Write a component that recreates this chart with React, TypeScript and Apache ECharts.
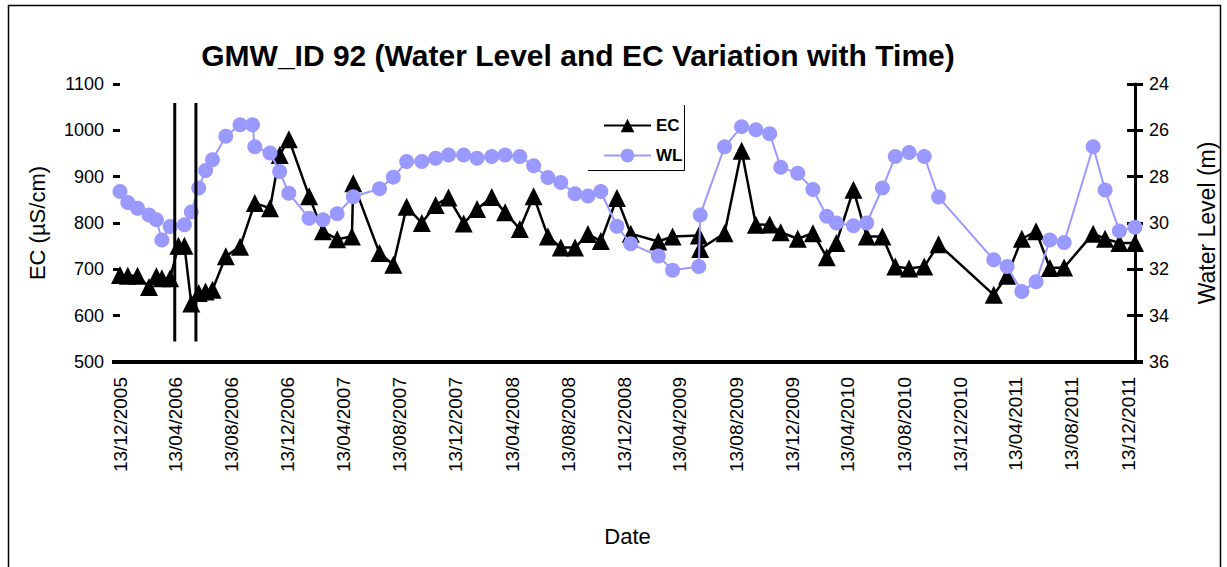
import React, { useEffect, useRef } from "react";
import * as echarts from "echarts";

const dates = [
  "2005-12-13", "2005-12-30", "2006-01-20", "2006-02-14", "2006-03-02", "2006-03-14", "2006-04-01", "2006-04-19", "2006-05-02", "2006-05-17",
  "2006-06-02", "2006-06-17", "2006-07-02", "2006-07-31", "2006-08-31", "2006-09-27", "2006-10-02", "2006-11-04", "2006-11-25", "2006-12-15",
  "2007-01-28", "2007-02-27", "2007-03-30", "2007-05-01", "2007-05-04", "2007-06-30", "2007-07-30", "2007-08-28", "2007-09-30", "2007-10-30",
  "2007-11-27", "2007-12-30", "2008-01-28", "2008-02-29", "2008-03-29", "2008-04-30", "2008-05-30", "2008-06-30", "2008-07-28", "2008-08-28",
  "2008-09-25", "2008-10-23", "2008-11-27", "2008-12-27", "2009-02-25", "2009-03-28", "2009-05-24", "2009-05-27", "2009-07-19", "2009-08-25",
  "2009-09-25", "2009-10-25", "2009-11-18", "2009-12-25", "2010-01-27", "2010-02-26", "2010-03-19", "2010-04-25", "2010-05-24", "2010-06-27",
  "2010-07-25", "2010-08-24", "2010-09-26", "2010-10-27", "2011-02-24", "2011-03-25", "2011-04-26", "2011-05-27", "2011-06-26", "2011-07-27",
  "2011-09-28", "2011-10-24", "2011-11-24", "2011-12-28",
];

const ecValues: (number | null)[] = [
  688, 686, 686, 662, 685, 681, 681, 751, 751, 626,
  649, 652, 656, 728, 749, null, 843, 832, 947, 981,
  858, 782, 765, 771, 886, 735, 710, 835, 800, 839,
  855, 799, 830, 856, 823, 787, 858, 771, 747, 747,
  776, 761, 854, 777, 760, 771, 773, 744, 778, 956,
  796, 797, 780, 766, 778, 726, 757, 872, 771, 771,
  706, 702, 706, 754, 645, 686, 766, 782, 703, 704,
  777, 766, 757, 757,
];

const wlValues: (number | null)[] = [
  28.64, 29.11, 29.36, 29.65, 29.86, 30.73, 30.15, null, 30.08, 29.52,
  28.49, 27.73, 27.27, 26.26, 25.76, 25.76, 26.71, 26.98, 27.78, 28.72,
  29.79, 29.86, 29.6, null, 28.87, 28.52, 28.02, 27.35, 27.35, 27.2,
  27.06, 27.06, 27.2, 27.13, 27.06, 27.13, 27.53, 28.04, 28.25, 28.74,
  28.83, 28.64, 30.14, 30.9, 31.42, 32.04, 31.88, 29.65, 26.71, 25.84,
  25.98, 26.15, 27.59, 27.85, 28.55, 29.71, 30.0, 30.12, 30.0, 28.49,
  27.13, 26.96, 27.13, 28.88, 31.59, 31.88, 32.96, 32.54, 30.73, 30.84,
  26.71, 28.58, 30.34, 30.18,
];

const xTickLabels = [
  "13/12/2005", "13/04/2006", "13/08/2006", "13/12/2006", "13/04/2007", "13/08/2007", "13/12/2007",
  "13/04/2008", "13/08/2008", "13/12/2008", "13/04/2009", "13/08/2009", "13/12/2009", "13/04/2010",
  "13/08/2010", "13/12/2010", "13/04/2011", "13/08/2011", "13/12/2011",
];

const xRange = ["2005-12-13", "2011-12-28"];
const markerDates = ["2006-04-11", "2006-05-27"];
const markerRange = [544, 1059];

const FONT = "'Liberation Sans', Arial, sans-serif";

const ts = (s: string) => {
  const [y, m, d] = s.split("-").map(Number);
  return Date.UTC(y, m - 1, d);
};
const tsFromLabel = (s: string) => {
  const [d, m, y] = s.split("/").map(Number);
  return Date.UTC(y, m - 1, d);
};
const pad = (n: number) => String(n).padStart(2, "0");
const fmt = (v: number) => {
  const dt = new Date(v);
  return `${pad(dt.getUTCDate())}/${pad(dt.getUTCMonth() + 1)}/${dt.getUTCFullYear()}`;
};

export default function App() {
  const ref = useRef<HTMLDivElement>(null);

  useEffect(() => {
    if (!ref.current) return;
    const chart = echarts.init(ref.current, undefined, { renderer: "svg" });

    const ecData = dates
      .map((d, i) => [ts(d), ecValues[i]])
      .filter((p) => p[1] !== null);
    const wlData = dates
      .map((d, i) => [ts(d), wlValues[i]])
      .filter((p) => p[1] !== null);
    const tickValues = xTickLabels.map(tsFromLabel);

    const markerSeries = markerDates.map((d) => ({
      name: "marker-" + d,
      type: "line",
      yAxisIndex: 0,
      data: [
        [ts(d), markerRange[0]],
        [ts(d), markerRange[1]],
      ],
      symbol: "none",
      silent: true,
      lineStyle: { color: "#000", width: 3 },
      z: 5,
    }));

    chart.setOption({
      animation: false,
      backgroundColor: "#fff",
      textStyle: { fontFamily: FONT },
      title: {
        text: "GMW_ID 92 (Water Level and EC Variation with Time)",
        left: 578,
        textAlign: "center",
        top: 40,
        padding: 0,
        textStyle: { fontSize: 30, fontWeight: "bold", color: "#000", fontFamily: FONT },
      },
      legend: {
        data: ["EC", "WL"],
        orient: "vertical",
        left: 598,
        top: 112,
        itemWidth: 47,
        itemHeight: 17,
        itemGap: 13,
        textStyle: { fontSize: 17, fontWeight: "bold", color: "#000", fontFamily: FONT },
      },
      grid: { left: 120, right: 92, top: 84, height: 278, containLabel: false },
      xAxis: {
        type: "value",
        min: ts(xRange[0]),
        max: ts(xRange[1]),
        name: "Date",
        nameLocation: "middle",
        nameGap: 163,
        nameTextStyle: { fontSize: 22, color: "#000", fontFamily: FONT },
        axisLine: { show: true, lineStyle: { color: "#000", width: 4 } },
        axisTick: { show: false },
        splitLine: { show: false },
        axisLabel: {
          customValues: tickValues,
          rotate: 90,
          margin: 15,
          fontSize: 19,
          color: "#000",
          fontFamily: FONT,
          formatter: (v: number) => fmt(v),
        },
      },
      yAxis: [
        {
          type: "value",
          position: "left",
          min: 500,
          max: 1100,
          interval: 100,
          name: "EC (µS/cm)",
          nameLocation: "middle",
          nameGap: 72,
          nameRotate: 90,
          nameTextStyle: { fontSize: 22, color: "#000", fontFamily: FONT },
          axisLine: { show: false },
          axisTick: { show: true, inside: false, length: 7, lineStyle: { color: "#000", width: 3 } },
          splitLine: { show: false },
          axisLabel: { margin: 16, fontSize: 18, color: "#000", fontFamily: FONT, formatter: (v: number) => String(v) },
        },
        {
          type: "value",
          position: "right",
          min: 24,
          max: 36,
          interval: 2,
          inverse: true,
          name: "Water Level (m)",
          nameLocation: "middle",
          nameGap: 60,
          nameRotate: 90,
          nameTextStyle: { fontSize: 23, color: "#000", fontFamily: FONT },
          axisLine: { show: true, lineStyle: { color: "#000", width: 3 } },
          axisTick: { show: true, inside: false, length: 8, lineStyle: { color: "#000", width: 3 } },
          splitLine: { show: false },
          axisLabel: { margin: 14, fontSize: 18, color: "#000", fontFamily: FONT, formatter: (v: number) => String(v) },
        },
        {
          type: "value",
          position: "right",
          min: 24,
          max: 36,
          interval: 2,
          inverse: true,
          axisLine: { show: false },
          axisTick: { show: true, inside: true, length: 8, lineStyle: { color: "#000", width: 3 } },
          splitLine: { show: false },
          axisLabel: { show: false },
        },
      ],
      series: [
        {
          name: "EC",
          type: "line",
          yAxisIndex: 0,
          data: ecData,
          symbol: "triangle",
          symbolSize: 18,
          itemStyle: { color: "#000" },
          lineStyle: { color: "#000", width: 2.5 },
          z: 2,
        },
        {
          name: "WL",
          type: "line",
          yAxisIndex: 1,
          data: wlData,
          symbol: "circle",
          symbolSize: 15,
          itemStyle: { color: "#9999FF" },
          lineStyle: { color: "#9999FF", width: 2 },
          z: 3,
        },
        ...markerSeries,
      ],
      graphic: [
        {
          type: "rect",
          silent: true,
          shape: { x: 8.5, y: 5.5, width: 1212, height: 600 },
          style: { fill: "none", stroke: "#000", lineWidth: 1.5 },
        },
        {
          type: "polyline",
          silent: true,
          shape: { points: [[588, 170.5], [684.5, 170.5], [684.5, 105]] },
          style: { fill: "none", stroke: "#000", lineWidth: 1 },
        },
        {
          type: "line",
          silent: true,
          shape: { x1: 112, y1: 362, x2: 1143, y2: 362 },
          style: { stroke: "#000", lineWidth: 4 },
        },
      ],
    });

    return () => chart.dispose();
  }, []);

  return (
    <div
      ref={ref}
      style={{ position: "fixed", left: 0, top: 0, width: 1227, height: 567, background: "#fff" }}
    />
  );
}
